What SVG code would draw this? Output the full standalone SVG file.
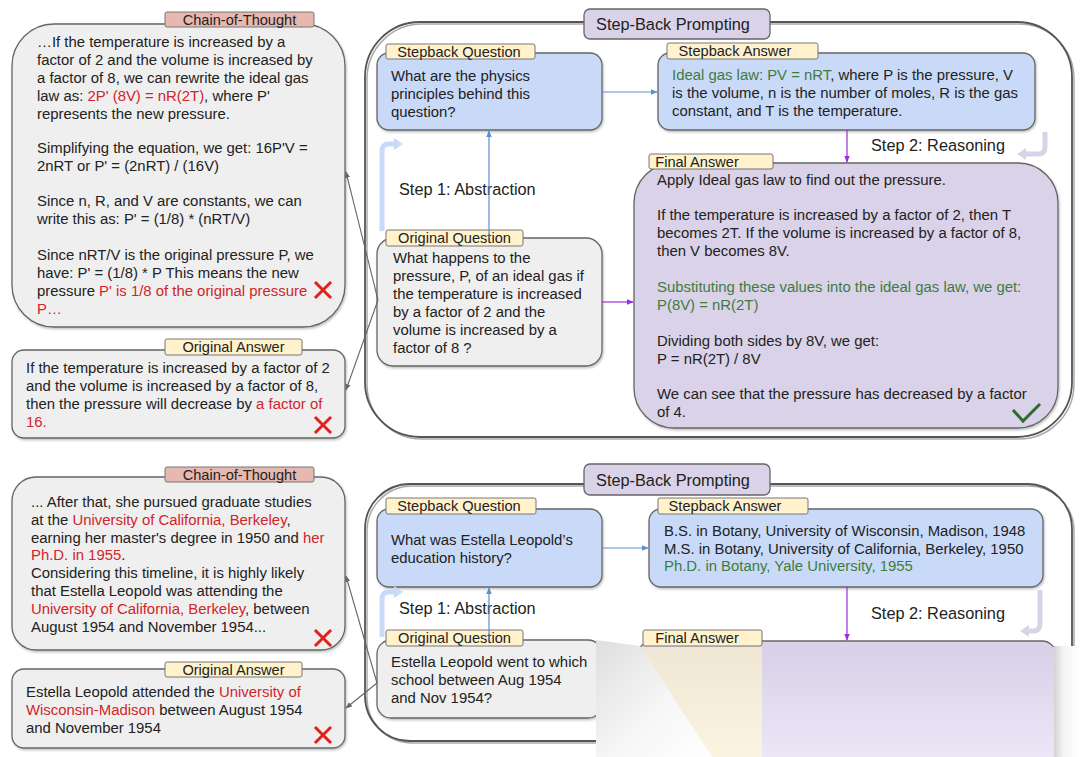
<svg xmlns="http://www.w3.org/2000/svg" width="1080" height="757" viewBox="0 0 1080 757">
<style>
text{font-family:"Liberation Sans",Arial,sans-serif;fill:#222}
.t{font-size:14.9px}
.lb{font-size:14.6px;fill:#222}
.big{font-size:16.3px}
.r{fill:#d0262a}
.g{fill:#3f7b3f}
.box{stroke:#666;stroke-width:1.3}
.grey{fill:#efefef}
.blue{fill:#c9daf8}
.purp{fill:#d9d2e9}
.yel{fill:#fff2cc;stroke:#777;stroke-width:1}
.pink{fill:#e6b8af;stroke:#777;stroke-width:1}
.cont{fill:none;stroke:#555;stroke-width:1.8}
.contsh{fill:none;stroke:#aaa;stroke-width:1.5}
.cb{stroke:#5b8fd0;stroke-width:1.2;fill:none}
.cp{stroke:#9a2de0;stroke-width:1.2;fill:none}
.cg{stroke:#666;stroke-width:1.1;fill:none}
.x{stroke:#e3211c;stroke-width:3;stroke-linecap:square}
.chk{stroke:#2e6b2e;stroke-width:3;fill:none}
.thb{stroke:#c9daf8;stroke-width:5;fill:none}
.thp{stroke:#d9d2e9;stroke-width:5;fill:none}
</style>
<defs>
<marker id="mb" viewBox="0 0 10 10" refX="9" refY="5" markerWidth="6" markerHeight="6" orient="auto"><path d="M0,1 L10,5 L0,9 z" fill="#5b8fd0"/></marker>
<marker id="mp" viewBox="0 0 10 10" refX="9" refY="5" markerWidth="6" markerHeight="6" orient="auto"><path d="M0,1 L10,5 L0,9 z" fill="#9a2de0"/></marker>
<marker id="mg" viewBox="0 0 10 10" refX="9" refY="5" markerWidth="6" markerHeight="6" orient="auto"><path d="M0,1 L10,5 L0,9 z" fill="#666"/></marker>
<filter id="sh" x="-5%" y="-5%" width="110%" height="115%"><feDropShadow dx="1" dy="1.5" stdDeviation="1" flood-color="#000" flood-opacity="0.25"/></filter>
<linearGradient id="gp" x1="0" y1="0" x2="0" y2="1"><stop offset="0" stop-color="#d7d0e7"/><stop offset="1" stop-color="#ece7f7"/></linearGradient>
<linearGradient id="gy" x1="0" y1="0" x2="0" y2="1"><stop offset="0" stop-color="#efe7d3"/><stop offset="1" stop-color="#fcf4e0"/></linearGradient>
<linearGradient id="gw" x1="0" y1="0" x2="1" y2="1"><stop offset="0" stop-color="#dedede"/><stop offset="0.55" stop-color="#f6f6f6"/><stop offset="1" stop-color="#ffffff"/></linearGradient>
<linearGradient id="gr" x1="0" y1="0" x2="1" y2="0"><stop offset="0" stop-color="#d2d2d2"/><stop offset="0.35" stop-color="#f4f4f4"/><stop offset="1" stop-color="#ffffff"/></linearGradient>
</defs>
<rect width="1080" height="757" fill="#fff"/>

<!-- ===== TOP PANEL ===== -->
<g id="container-top">
<rect class="contsh" x="367" y="24" width="707" height="415" rx="55"/>
<rect class="cont" x="365" y="22" width="707" height="415" rx="55"/>
<rect x="584" y="9" width="186" height="30" rx="6" fill="#d9d2e9" stroke="#666" stroke-width="1.3"/>
<text class="big" x="673" y="30" text-anchor="middle">Step-Back Prompting</text>
</g>

<g id="cot-top">
<rect class="box grey" filter="url(#sh)" x="12" y="24" width="333" height="303" rx="42"/>
<rect class="pink" x="165" y="12" width="149" height="15" rx="2"/>
<text class="lb" x="239.5" y="25" text-anchor="middle">Chain-of-Thought</text>
<text class="t" x="37" y="47">…If the temperature is increased by a</text>
<text class="t" x="37" y="65">factor of 2 and the volume is increased by</text>
<text class="t" x="37" y="83">a factor of 8, we can rewrite the ideal gas</text>
<text class="t" x="37" y="101">law as: <tspan class="r">2P' (8V) = nR(2T)</tspan>, where P'</text>
<text class="t" x="37" y="119">represents the new pressure.</text>
<text class="t" x="37" y="153">Simplifying the equation, we get: 16P'V =</text>
<text class="t" x="37" y="171">2nRT or P' = (2nRT) / (16V)</text>
<text class="t" x="37" y="206">Since n, R, and V are constants, we can</text>
<text class="t" x="37" y="224">write this as: P' = (1/8) * (nRT/V)</text>
<text class="t" x="37" y="260">Since nRT/V is the original pressure P, we</text>
<text class="t" x="37" y="278">have: P' = (1/8) * P This means the new</text>
<text class="t" x="37" y="296">pressure <tspan class="r">P' is 1/8 of the original pressure</tspan></text>
<text class="t r" x="37" y="314">P…</text>
<path class="x" d="M316,283 L330,297 M330,283 L316,297"/>
</g>

<g id="orig-answer-top">
<rect class="box grey" filter="url(#sh)" x="12" y="350" width="333" height="88" rx="12"/>
<rect class="yel" x="165" y="339" width="137" height="16" rx="2"/>
<text class="lb" x="233.5" y="352" text-anchor="middle">Original Answer</text>
<text class="t" x="26" y="373">If the temperature is increased by a factor of 2</text>
<text class="t" x="26" y="391">and the volume is increased by a factor of 8,</text>
<text class="t" x="26" y="409">then the pressure will decrease by <tspan class="r">a factor of</tspan></text>
<text class="t r" x="26" y="427">16.</text>
<path class="x" d="M316,418 L330,432 M330,418 L316,432"/>
</g>

<g id="sb-question-top">
<rect class="box blue" filter="url(#sh)" x="377" y="53" width="225" height="77" rx="12"/>
<rect class="yel" x="386" y="44" width="149" height="15" rx="2"/>
<text class="lb" x="459" y="57" text-anchor="middle">Stepback Question</text>
<text class="t" x="391" y="81">What are the physics</text>
<text class="t" x="391" y="99">principles behind this</text>
<text class="t" x="391" y="117">question?</text>
</g>

<g id="sb-answer-top">
<rect class="box blue" filter="url(#sh)" x="658" y="53" width="377" height="77" rx="12"/>
<rect class="yel" x="667" y="43" width="151" height="16" rx="2"/>
<text class="lb" x="735" y="56" text-anchor="middle">Stepback Answer</text>
<text class="t" x="672" y="80"><tspan class="g">Ideal gas law: PV = nRT</tspan>, where P is the pressure, V</text>
<text class="t" x="672" y="98">is the volume, n is the number of moles, R is the gas</text>
<text class="t" x="672" y="116">constant, and T is the temperature.</text>
</g>

<g id="orig-question-top">
<rect class="box grey" filter="url(#sh)" x="377" y="238" width="225" height="128" rx="16"/>
<rect class="yel" x="386" y="230" width="137" height="16" rx="2"/>
<text class="lb" x="454.5" y="243" text-anchor="middle">Original Question</text>
<text class="t" x="393" y="263">What happens to the</text>
<text class="t" x="393" y="281">pressure, P, of an ideal gas if</text>
<text class="t" x="393" y="299">the temperature is increased</text>
<text class="t" x="393" y="317">by a factor of 2 and the</text>
<text class="t" x="393" y="335">volume is increased by a</text>
<text class="t" x="393" y="353">factor of 8 ?</text>
</g>

<g id="final-answer-top">
<rect class="box purp" filter="url(#sh)" x="634" y="163" width="424" height="265" rx="40"/>
<rect class="yel" x="649" y="154" width="124" height="15" rx="2"/>
<text class="lb" x="697" y="167" text-anchor="middle">Final Answer</text>
<text class="t" x="657" y="185">Apply Ideal gas law to find out the pressure.</text>
<text class="t" x="657" y="220">If the temperature is increased by a factor of 2, then T</text>
<text class="t" x="657" y="238">becomes 2T. If the volume is increased by a factor of 8,</text>
<text class="t" x="657" y="256">then V becomes 8V.</text>
<text class="t g" x="657" y="292">Substituting these values into the ideal gas law, we get:</text>
<text class="t g" x="657" y="310">P(8V) = nR(2T)</text>
<text class="t" x="657" y="346">Dividing both sides by 8V, we get:</text>
<text class="t" x="657" y="364">P = nR(2T) / 8V</text>
<text class="t" x="657" y="399">We can see that the pressure has decreased by a factor</text>
<text class="t" x="657" y="417">of 4.</text>
<path class="chk" d="M1013,410 L1023,421 L1040,404"/>
</g>

<g id="labels-top">
<text class="big" x="399" y="195">Step 1: Abstraction</text>
<text class="big" x="871" y="151">Step 2: Reasoning</text>
</g>

<!-- ===== BOTTOM PANEL ===== -->
<g id="container-bottom">
<rect class="contsh" x="367" y="486" width="707" height="257" rx="45"/>
<rect class="cont" x="365" y="484" width="707" height="257" rx="45"/>
<rect x="584" y="464" width="186" height="31" rx="6" fill="#d9d2e9" stroke="#666" stroke-width="1.3"/>
<text class="big" x="673" y="486" text-anchor="middle">Step-Back Prompting</text>
</g>

<g id="cot-bottom">
<rect class="box grey" filter="url(#sh)" x="12" y="477" width="333" height="173" rx="24"/>
<rect class="pink" x="165" y="467" width="149" height="15" rx="2"/>
<text class="lb" x="239.5" y="480" text-anchor="middle">Chain-of-Thought</text>
<text class="t" x="31" y="507">... After that, she pursued graduate studies</text>
<text class="t" x="31" y="525">at the <tspan class="r">University of California, Berkeley</tspan>,</text>
<text class="t" x="31" y="543">earning her master's degree in 1950 and <tspan class="r">her</tspan></text>
<text class="t" x="31" y="560"><tspan class="r">Ph.D. in 1955</tspan>.</text>
<text class="t" x="31" y="578">Considering this timeline, it is highly likely</text>
<text class="t" x="31" y="596">that Estella Leopold was attending the</text>
<text class="t" x="31" y="614"><tspan class="r">University of California, Berkeley</tspan>, between</text>
<text class="t" x="31" y="632">August 1954 and November 1954...</text>
<path class="x" d="M316,631 L330,645 M330,631 L316,645"/>
</g>

<g id="orig-answer-bottom">
<rect class="box grey" filter="url(#sh)" x="12" y="669" width="333" height="79" rx="12"/>
<rect class="yel" x="165" y="662" width="137" height="15" rx="2"/>
<text class="lb" x="233.5" y="675" text-anchor="middle">Original Answer</text>
<text class="t" x="26" y="697">Estella Leopold attended the <tspan class="r">University of</tspan></text>
<text class="t" x="26" y="715"><tspan class="r">Wisconsin-Madison</tspan> between August 1954</text>
<text class="t" x="26" y="733">and November 1954</text>
<path class="x" d="M316,728 L330,742 M330,728 L316,742"/>
</g>

<g id="sb-question-bottom">
<rect class="box blue" filter="url(#sh)" x="377" y="509" width="225" height="78" rx="12"/>
<rect class="yel" x="386" y="498" width="150" height="16" rx="2"/>
<text class="lb" x="459" y="511" text-anchor="middle">Stepback Question</text>
<text class="t" x="391" y="545">What was Estella Leopold’s</text>
<text class="t" x="391" y="563">education history?</text>
</g>

<g id="sb-answer-bottom">
<rect class="box blue" filter="url(#sh)" x="649" y="509" width="394" height="78" rx="12"/>
<rect class="yel" x="658" y="498" width="150" height="16" rx="2"/>
<text class="lb" x="725" y="511" text-anchor="middle">Stepback Answer</text>
<text class="t" x="664" y="536">B.S. in Botany, University of Wisconsin, Madison, 1948</text>
<text class="t" x="664" y="554">M.S. in Botany, University of California, Berkeley, 1950</text>
<text class="t g" x="664" y="571">Ph.D. in Botany, Yale University, 1955</text>
</g>

<g id="orig-question-bottom">
<rect class="box grey" filter="url(#sh)" x="377" y="640" width="225" height="78" rx="14"/>
<rect class="yel" x="386" y="630" width="137" height="16" rx="2"/>
<text class="lb" x="454.5" y="643" text-anchor="middle">Original Question</text>
<text class="t" x="391" y="667">Estella Leopold went to which</text>
<text class="t" x="391" y="685">school between Aug 1954</text>
<text class="t" x="391" y="703">and Nov 1954?</text>
</g>

<g id="final-answer-bottom">
<rect class="box purp" x="638" y="641" width="418" height="140" rx="14"/>
<rect class="yel" x="643" y="630" width="119" height="16" rx="2"/>
<text class="lb" x="697" y="643" text-anchor="middle">Final Answer</text>
</g>

<g id="labels-bottom">
<text class="big" x="399" y="614">Step 1: Abstraction</text>
<text class="big" x="871" y="619">Step 2: Reasoning</text>
</g>

<!-- ===== CONNECTORS ===== -->
<g id="connectors">
<line class="cb" x1="602" y1="92" x2="657" y2="92" marker-end="url(#mb)"/>
<line class="cb" x1="489" y1="238" x2="489" y2="131" marker-end="url(#mb)"/>
<line class="cp" x1="602" y1="302" x2="633" y2="302" marker-end="url(#mp)"/>
<line class="cp" x1="847" y1="130" x2="847" y2="162" marker-end="url(#mp)"/>
<line class="cg" x1="378" y1="300" x2="346" y2="172" marker-end="url(#mg)"/>
<line class="cg" x1="378" y1="300" x2="346" y2="390" marker-end="url(#mg)"/>
<path class="thb" d="M382,231 V151 Q382,144 389,144 H395"/>
<path d="M394,138 L403,144 L394,150 z" fill="#c9daf8"/>
<path class="thp" d="M1045,132 V147 Q1045,154 1038,154 H1025"/>
<path d="M1026,148 L1017,154 L1026,160 z" fill="#d9d2e9"/>

<line class="cb" x1="602" y1="548" x2="648" y2="548" marker-end="url(#mb)"/>
<line class="cb" x1="489" y1="640" x2="489" y2="588" marker-end="url(#mb)"/>
<line class="cp" x1="847" y1="587" x2="847" y2="640" marker-end="url(#mp)"/>
<line class="cg" x1="377" y1="683" x2="346" y2="576" marker-end="url(#mg)"/>
<line class="cg" x1="377" y1="683" x2="346" y2="708" marker-end="url(#mg)"/>
<path class="thb" d="M382,637 V599 Q382,592 389,592 H395"/>
<path d="M394,586 L403,592 L394,598 z" fill="#c9daf8"/>
<path class="thp" d="M1040,590 V624 Q1040,631 1033,631 H1028"/>
<path d="M1029,625 L1020,631 L1029,637 z" fill="#d9d2e9"/>
</g>

<!-- ===== page-curl overlay in the reference ===== -->
<g id="overlay">
<rect x="639" y="647" width="417" height="110" fill="url(#gp)"/>
<rect x="639" y="647" width="123" height="110" fill="url(#gy)"/>
<polygon points="596,640 640,646 712,757 596,757" fill="url(#gw)"/>
<rect x="1054" y="646" width="26" height="111" fill="url(#gr)"/>
</g>
</svg>
